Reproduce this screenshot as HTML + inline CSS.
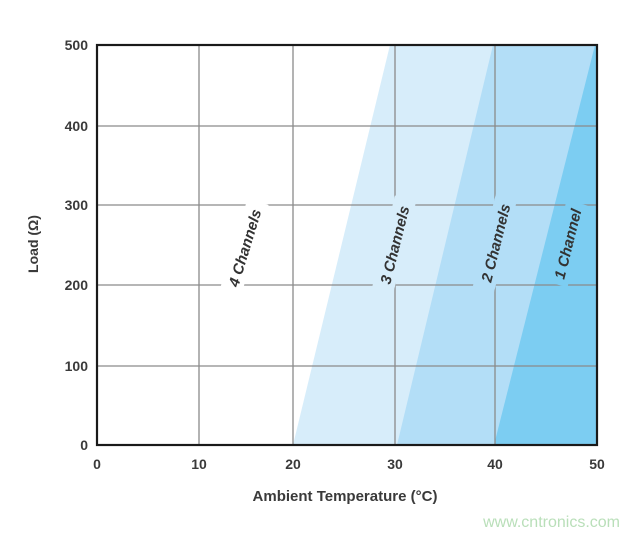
<!DOCTYPE html>
<html><head><meta charset="utf-8"><style>
html,body{margin:0;padding:0;background:#fff;}
svg{display:block;font-family:"Liberation Sans",Arial,sans-serif;}
</style></head><body>
<svg width="639" height="537" viewBox="0 0 639 537" xmlns="http://www.w3.org/2000/svg">
<rect width="639" height="537" fill="#fff"/>
<polygon points="293,445 390,45 597,45 597,445" fill="#d7edfa"/>
<polygon points="397,445 493,45 597,45 597,445" fill="#b3def7"/>
<polygon points="494,445 595,45 597,45 597,445" fill="#7ccdf2"/>
<g stroke="#8a8a8a" stroke-width="1.3">
<line x1="97" y1="126" x2="597" y2="126"/>
<line x1="97" y1="205" x2="597" y2="205"/>
<line x1="97" y1="285" x2="597" y2="285"/>
<line x1="97" y1="366" x2="597" y2="366"/>
<line x1="199" y1="45" x2="199" y2="445"/>
<line x1="293" y1="45" x2="293" y2="445"/>
<line x1="395" y1="45" x2="395" y2="445"/>
<line x1="495" y1="45" x2="495" y2="445"/>
</g>
<g font-size="15" font-weight="bold" font-style="italic" fill="#333" text-anchor="middle">
<g transform="translate(245,248) rotate(-73)"><rect x="-48" y="-12" width="96" height="22" fill="#fff"/><text x="0" y="5">4 Channels</text></g>
<g transform="translate(395,245) rotate(-76)"><rect x="-48" y="-12" width="96" height="22" fill="#d7edfa"/><text x="0" y="5">3 Channels</text></g>
<g transform="translate(496,243) rotate(-76)"><rect x="-48" y="-12" width="96" height="22" fill="#b3def7"/><text x="0" y="5">2 Channels</text></g>
<g transform="translate(568,244) rotate(-76)"><rect x="-42" y="-12" width="84" height="22" fill="#7ccdf2"/><text x="0" y="5">1 Channel</text></g>
</g>
<rect x="97" y="45" width="500" height="400" fill="none" stroke="#1a1a1a" stroke-width="2.2"/>
<g font-size="14" font-weight="bold" fill="#3a3a3a" text-anchor="end">
<text x="88" y="50">500</text>
<text x="88" y="131">400</text>
<text x="88" y="210">300</text>
<text x="88" y="290">200</text>
<text x="88" y="371">100</text>
<text x="88" y="450">0</text>
</g>
<g font-size="14" font-weight="bold" fill="#3a3a3a" text-anchor="middle">
<text x="97" y="469">0</text>
<text x="199" y="469">10</text>
<text x="293" y="469">20</text>
<text x="395" y="469">30</text>
<text x="495" y="469">40</text>
<text x="597" y="469">50</text>
<text x="345" y="501" font-size="15">Ambient Temperature (°C)</text>
<text transform="translate(38,244) rotate(-90)">Load (Ω)</text>
</g>
<text x="620" y="527" font-size="16" fill="#b9dfb9" text-anchor="end">www.cntronics.com</text>
</svg>
</body></html>
